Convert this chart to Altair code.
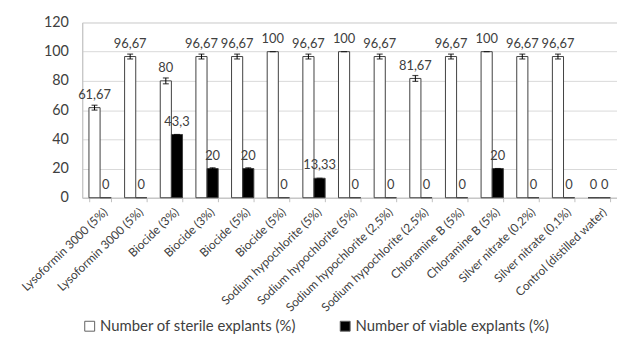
import json
import altair as alt
import pandas as pd

categories = [
    "Lysoformin 3000 (5%)", "Lysoformin 3000 (5%)", "Biocide (3%)", "Biocide (3%)",
    "Biocide (5%)", "Biocide (5%)", "Sodium hypochlorite (5%)", "Sodium hypochlorite (5%)",
    "Sodium hypochlorite (2,5%)", "Sodium hypochlorite (2,5%)", "Chloramine B (5%)",
    "Chloramine B (5%)", "Silver nitrate (0,2%)", "Silver nitrate (0,1%)",
    "Control (distilled water)",
]
series = ["Number of sterile explants (%)", "Number of viable explants (%)"]
sterile = [61.67, 96.67, 80, 96.67, 96.67, 100, 96.67, 100, 96.67, 81.67, 96.67, 100, 96.67, 96.67, 0]
viable = [0, 0, 43.3, 20, 20, 0, 13.33, 0, 0, 0, 0, 20, 0, 0, 0]
sterile_err = [1.67, 1.67, 2.0, 1.67, 1.67, 0, 1.67, 0, 1.67, 2.0, 1.67, 0, 1.67, 1.67, 0]
viable_err = [0, 0, 0, 0.5, 0.5, 0, 0, 0, 0, 0, 0, 0, 0, 0, 0]
sterile_lbl = ["61,67", "96,67", "80", "96,67", "96,67", "100", "96,67", "100", "96,67", "81,67",
               "96,67", "100", "96,67", "96,67", "0"]
viable_lbl = ["0", "0", "43,3", "20", "20", "0", "13,33", "0", "0", "0", "0", "20", "0", "0", "0"]
y_ticks = [0, 20, 40, 60, 80, 100, 120]

rows = []
for i in range(len(categories)):
    rows.append(dict(idx=i, series=series[0], value=sterile[i], err=sterile_err[i], label=sterile_lbl[i]))
    rows.append(dict(idx=i, series=series[1], value=viable[i], err=viable_err[i], label=viable_lbl[i]))
df = pd.DataFrame(rows)
df["lo"] = df["value"] - df["err"]
df["hi"] = df["value"] + df["err"]

FONT = "Lato"
TXT = "#404040"
label_expr = json.dumps(categories) + "[datum.value]"

x_enc = alt.X(
    "idx:O",
    scale=alt.Scale(paddingInner=0.375, paddingOuter=0.1875),
    axis=alt.Axis(
        title=None, labelExpr=label_expr, labelAngle=-44, labelAlign="right",
        labelBaseline="middle", labelFontSize=12, labelColor=TXT, labelFont=FONT,
        labelPadding=8, labelOffset=5, tickBand="extent", tickSize=4, tickColor="#bfbfbf",
        domainColor="#bfbfbf", grid=False, labelOverlap=False, labelLimit=300,
    ),
)
xo = alt.XOffset("series:N", sort=series, scale=alt.Scale(paddingInner=0, paddingOuter=0))

y_scale = alt.Scale(domain=[0, 120])
y_axis = alt.Axis(
    title=None, values=y_ticks, labelFontSize=14.5, labelColor=TXT, labelFont=FONT,
    gridColor="#d9d9d9", domainColor="#bfbfbf", ticks=False, labelPadding=14,
    labelOverlap=False, grid=True,
)


def Y(field):
    return alt.Y(field, scale=y_scale, axis=y_axis, title=None)


base = alt.Chart(df)

bars = base.mark_bar(stroke="#404040", strokeWidth=1).encode(
    x=x_enc,
    xOffset=xo,
    y=Y("value:Q"),
    fill=alt.Color(
        "series:N",
        sort=series,
        scale=alt.Scale(domain=series, range=["white", "black"]),
        legend=alt.Legend(
            title=None, orient="none", direction="horizontal", legendX=0, legendY=299,
            symbolType="square", symbolSize=100, symbolStrokeColor="#606060",
            symbolStrokeWidth=1, labelFontSize=15, labelFont=FONT, labelColor=TXT,
            columnPadding=42, labelLimit=400, padding=0, labelOffset=3,
        ),
    ),
)

err_rule = base.transform_filter("datum.err > 0").mark_rule(color="black", strokeWidth=1).encode(
    x=x_enc, xOffset=xo, y=Y("lo:Q"), y2="hi:Q"
)
caps_hi = base.transform_filter("datum.value > 0").mark_tick(
    color="black", size=6, thickness=1.2, orient="horizontal"
).encode(x=x_enc, xOffset=xo, y=Y("hi:Q"))
caps_lo = base.transform_filter("datum.err > 0").mark_tick(
    color="black", size=6, thickness=1.2, orient="horizontal"
).encode(x=x_enc, xOffset=xo, y=Y("lo:Q"))

texts = base.mark_text(dy=-13, fontSize=13, font=FONT, color=TXT, baseline="middle").encode(
    x=x_enc, xOffset=xo, y=Y("value:Q"), text="label:N"
)

chart = (
    alt.layer(bars, err_rule, caps_hi, caps_lo, texts)
    .properties(
        width=540, height=177,
        autosize=alt.AutoSizeParams(type="none"),
        padding={"left": 75, "top": 13, "right": 0, "bottom": 136},
    )
    .configure_view(stroke=None)
    .configure(background="white")
)

chart.save("out.html", embed_options={"renderer": "svg", "actions": False})
